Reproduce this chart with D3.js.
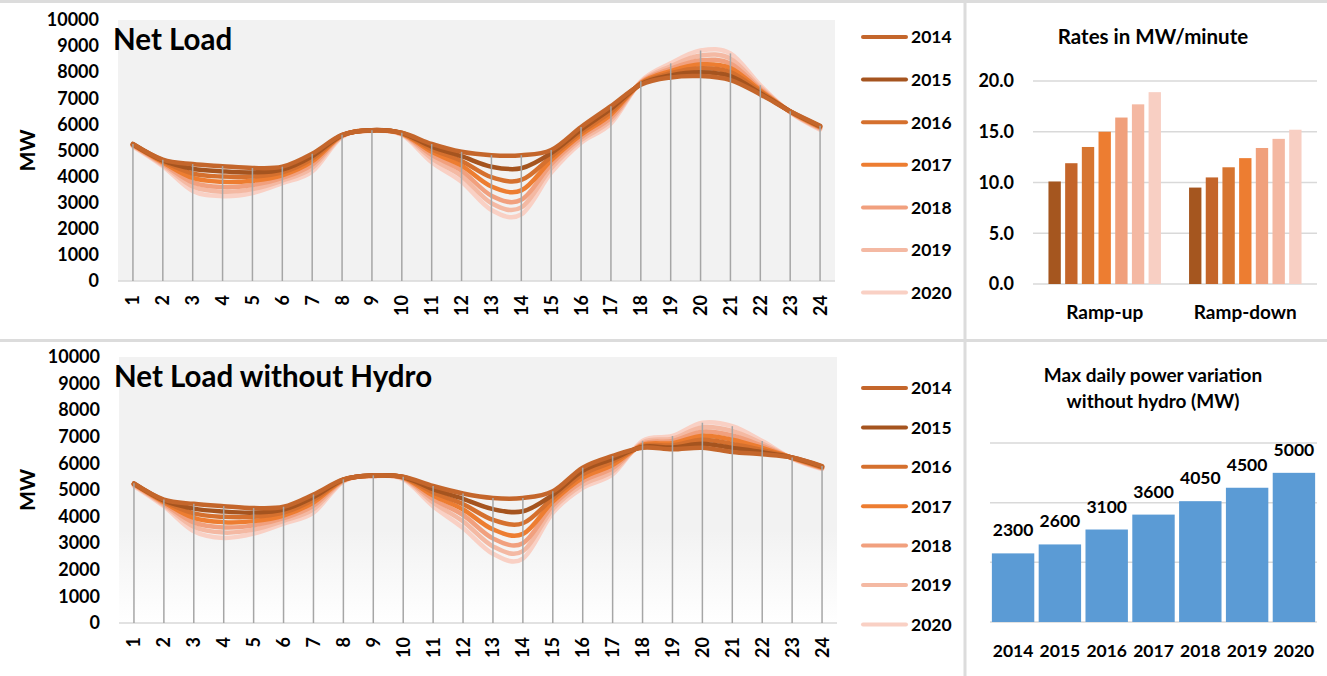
<!DOCTYPE html>
<html>
<head>
<meta charset="utf-8">
<script src="https://cdn.jsdelivr.net/npm/d3@7"></script>
<style>
  body { margin: 0; background: #fff; }
  svg { display: block; font-family: Lato, "Open Sans", sans-serif; font-weight: 700; }
</style>
</head>
<body>
<svg id="chart" width="1327" height="676"></svg>
<script>
// hours and years
var hours = ["1","2","3","4","5","6","7","8","9","10","11","12","13","14","15","16","17","18","19","20","21","22","23","24"];
var years = ["2014","2015","2016","2017","2018","2019","2020"];
var lineColors = ["#c4662b","#a5541f","#d5702e","#ed7d31","#f1a07e","#f4b9a3","#f9d0c4"];
var barColors  = ["#a5561f","#c4652a","#d77530","#ed7d31","#f0a07c","#f4b8a2","#f8cfc3"];

// Net Load (MW) per hour
var netLoad2014 = [5250,4650,4480,4400,4330,4380,4880,5600,5780,5680,5250,4950,4820,4820,5020,5900,6700,7520,7800,7850,7700,7150,6500,5950];
var netLoad2015 = [5240,4620,4300,4200,4160,4270,4780,5590,5780,5670,5150,4780,4380,4320,4900,5800,6600,7540,7880,8000,7850,7200,6500,5930];
var netLoad2016 = [5230,4590,4120,4000,4000,4160,4680,5580,5770,5660,5050,4600,3980,3870,4760,5700,6480,7560,7960,8150,8000,7250,6500,5910];
var netLoad2017 = [5220,4550,3950,3800,3840,4050,4580,5570,5770,5650,4950,4420,3620,3470,4620,5600,6380,7580,8040,8300,8160,7300,6490,5890];
var netLoad2018 = [5200,4500,3780,3600,3680,3950,4460,5560,5760,5640,4830,4230,3270,3110,4480,5500,6260,7600,8130,8460,8330,7350,6480,5860];
var netLoad2019 = [5180,4450,3620,3420,3520,3850,4330,5540,5760,5620,4700,4020,2980,2820,4320,5400,6150,7620,8230,8640,8520,7420,6470,5830];
var netLoad2020 = [5150,4400,3450,3250,3370,3750,4200,5520,5750,5600,4550,3800,2720,2550,4150,5300,6040,7650,8340,8830,8720,7500,6460,5800];

// Net Load without Hydro (MW) per hour
var noHydro2014 = [5250,4640,4480,4390,4320,4370,4830,5400,5550,5500,5150,4870,4700,4700,4950,5840,6280,6590,6530,6590,6430,6340,6220,5900];
var noHydro2015 = [5240,4610,4300,4190,4150,4260,4730,5390,5550,5490,5030,4670,4280,4200,4820,5720,6170,6620,6600,6740,6580,6420,6220,5880];
var noHydro2016 = [5230,4580,4120,3990,3990,4150,4630,5380,5540,5480,4910,4470,3880,3750,4690,5590,6060,6650,6680,6890,6730,6500,6220,5860];
var noHydro2017 = [5220,4540,3950,3790,3830,4040,4530,5370,5540,5470,4790,4270,3520,3350,4560,5460,5940,6690,6760,7040,6890,6580,6210,5840];
var noHydro2018 = [5200,4490,3780,3590,3670,3940,4410,5360,5530,5450,4660,4060,3180,3000,4420,5330,5820,6730,6840,7190,7050,6660,6200,5820];
var noHydro2019 = [5180,4440,3620,3400,3510,3840,4280,5340,5530,5430,4530,3820,2880,2700,4280,5200,5700,6780,6930,7360,7220,6750,6190,5810];
var noHydro2020 = [5150,4390,3450,3200,3360,3740,4150,5320,5520,5400,4390,3570,2600,2420,4140,5080,5590,6850,7030,7530,7400,6840,6180,5790];

var yTicksMW = [0,1000,2000,3000,4000,5000,6000,7000,8000,9000,10000];

// ramp rates (MW/minute)
var rampGroups = ["Ramp-up","Ramp-down"];
var rampUp   = [10.1,11.9,13.5,15.0,16.4,17.7,18.9];
var rampDown = [9.5,10.5,11.5,12.4,13.4,14.3,15.2];
var rateTicks = [0,5,10,15,20];

// max daily power variation without hydro (MW)
var maxVariation = [2300,2600,3100,3600,4050,4500,5000];
var variationTicks = [0,2000,4000,6000];

var svg = d3.select("#chart");

// panel frame
var frame = svg.append("g").attr("stroke","#dcdcdc").attr("stroke-width",3);
frame.append("line").attr("x1",0).attr("x2",1327).attr("y1",1.5).attr("y2",1.5);
frame.append("line").attr("x1",0).attr("x2",1327).attr("y1",340.5).attr("y2",340.5);
frame.append("line").attr("x1",965).attr("x2",965).attr("y1",0).attr("y2",676);

function styleTicks(sel, size){
  sel.selectAll("text").attr("font-size",size).attr("font-weight",700).attr("fill","#000")
    .attr("font-family","Lato, sans-serif");
}

function buildLineChart(opts){
  var g = svg.append("g");
  var x = d3.scaleBand().domain(hours).range([opts.left, opts.right]);
  var y = d3.scaleLinear().domain([0,10000]).range([opts.bottom, opts.top]);
  var cx = function(h){ return x(h) + x.bandwidth()/2; };

  if (opts.gradient) {
    var grad = svg.append("defs").append("linearGradient")
      .attr("id", opts.id + "-bg").attr("x1",0).attr("x2",0).attr("y1",0).attr("y2",1);
    grad.append("stop").attr("offset","0%").attr("stop-color","#f2f2f2");
    grad.append("stop").attr("offset","65%").attr("stop-color","#f2f2f2");
    grad.append("stop").attr("offset","100%").attr("stop-color","#ffffff");
  }
  g.append("rect")
    .attr("x", opts.left).attr("y", opts.top)
    .attr("width", opts.right - opts.left).attr("height", opts.bottom - opts.top)
    .attr("fill", opts.gradient ? "url(#" + opts.id + "-bg)" : "#f2f2f2");

  g.append("line")
    .attr("x1", opts.left).attr("x2", opts.right)
    .attr("y1", opts.bottom).attr("y2", opts.bottom)
    .attr("stroke","#d9d9d9").attr("stroke-width",1.5);

  var yAxis = g.append("g")
    .attr("transform","translate(" + opts.left + ",0)")
    .call(d3.axisLeft(y).tickValues(yTicksMW).tickSize(0).tickPadding(19).tickFormat(d3.format("d")));
  yAxis.select(".domain").remove();
  styleTicks(yAxis, 18);

  var xAxis = g.append("g")
    .attr("transform","translate(0," + opts.bottom + ")")
    .call(d3.axisBottom(x).tickSize(0));
  xAxis.select(".domain").remove();
  styleTicks(xAxis, 18);
  xAxis.selectAll("text")
    .attr("transform","rotate(-90)")
    .attr("x",-14).attr("y",0).attr("dy","0.36em")
    .attr("text-anchor","end");

  g.append("text")
    .attr("transform","translate(" + 35 + "," + ((opts.top + opts.bottom)/2) + ") rotate(-90)")
    .attr("text-anchor","middle")
    .attr("font-size",21)
    .text("MW");

  g.append("text")
    .attr("x", opts.left - 5).attr("y", opts.top + 30)
    .attr("font-size",29.5)
    .text(opts.title);

  var line = d3.line()
    .x(function(d,i){ return cx(hours[i]); })
    .y(function(d){ return y(d); })
    .curve(d3.curveCardinal.tension(0));

  // lightest year first so the darker ones sit on top
  for (var s = opts.series.length - 1; s >= 0; s--) {
    g.append("path")
      .attr("d", line(opts.series[s]))
      .attr("fill","none")
      .attr("stroke", lineColors[s])
      .attr("stroke-width",4.5)
      .attr("stroke-linecap","round");
  }

  // drop lines from the highest series to the axis
  g.selectAll(".drop")
    .data(hours)
    .enter().append("line")
    .attr("x1", function(h){ return cx(h); })
    .attr("x2", function(h){ return cx(h); })
    .attr("y1", function(h,i){ return y(d3.max(opts.series, function(sr){ return sr[i]; })); })
    .attr("y2", opts.bottom)
    .attr("stroke","#a6a6a6").attr("stroke-width",1.5);

  // legend
  var lg = g.selectAll(".lg").data(years).enter().append("g")
    .attr("transform", function(d,i){ return "translate(0," + (opts.legendTop + i*opts.legendStep) + ")"; });
  lg.append("line")
    .attr("x1",863).attr("x2",906)
    .attr("stroke", function(d,i){ return lineColors[i]; })
    .attr("stroke-width",4).attr("stroke-linecap","round");
  lg.append("text")
    .attr("x",911).attr("dy","0.36em")
    .attr("font-size",17.5)
    .text(function(d){ return d; });
}

buildLineChart({
  id: "net", title: "Net Load",
  left: 118, right: 835, top: 20, bottom: 281,
  series: [netLoad2014,netLoad2015,netLoad2016,netLoad2017,netLoad2018,netLoad2019,netLoad2020],
  legendTop: 37, legendStep: 42.6, gradient: false
});

buildLineChart({
  id: "hydro", title: "Net Load without Hydro",
  left: 119, right: 837, top: 357, bottom: 623,
  series: [noHydro2014,noHydro2015,noHydro2016,noHydro2017,noHydro2018,noHydro2019,noHydro2020],
  legendTop: 388, legendStep: 39.4, gradient: true
});

// Rates in MW/minute
(function(){
  var g = svg.append("g");
  var left = 1033, right = 1317, top = 81, bottom = 284;
  var y = d3.scaleLinear().domain([0,20]).range([bottom, top]);
  var x0 = d3.scaleBand().domain(rampGroups).range([left, right]).paddingInner(0.2).paddingOuter(0.11);
  var x1 = d3.scaleBand().domain(years).range([0, x0.bandwidth()]).paddingInner(0.26);

  g.selectAll(".grid").data(rateTicks).enter().append("line")
    .attr("x1", left).attr("x2", right)
    .attr("y1", function(d){ return y(d); }).attr("y2", function(d){ return y(d); })
    .attr("stroke","#d9d9d9").attr("stroke-width",1.5);

  var yAxis = g.append("g").attr("transform","translate(" + (left - 19) + ",0)")
    .call(d3.axisLeft(y).tickValues(rateTicks).tickSize(0).tickPadding(0).tickFormat(d3.format(".1f")));
  yAxis.select(".domain").remove();
  styleTicks(yAxis, 18);

  var groups = [rampUp, rampDown];
  rampGroups.forEach(function(grp, gi){
    g.selectAll(".bar" + gi).data(groups[gi]).enter().append("rect")
      .attr("x", function(d,i){ return x0(grp) + x1(years[i]); })
      .attr("width", x1.bandwidth())
      .attr("y", function(d){ return y(d); })
      .attr("height", function(d){ return bottom - y(d); })
      .attr("fill", function(d,i){ return barColors[i]; });
  });

  g.selectAll(".cat").data(rampGroups).enter().append("text")
    .attr("x", function(d){ return x0(d) + x0.bandwidth()/2; })
    .attr("y", 319)
    .attr("text-anchor","middle").attr("font-size",19)
    .text(function(d){ return d; });

  g.append("text").attr("x",1153).attr("y",44)
    .attr("text-anchor","middle").attr("font-size",20.5)
    .text("Rates in MW/minute");
})();

// Max daily power variation without hydro
(function(){
  var g = svg.append("g");
  var left = 990, right = 1317, top = 443, bottom = 622;
  var y = d3.scaleLinear().domain([0,6000]).range([bottom, top]);
  var x = d3.scaleBand().domain(years).range([left, right]).paddingInner(0.094).paddingOuter(0.04);

  g.selectAll(".grid").data(variationTicks).enter().append("line")
    .attr("x1", left).attr("x2", right)
    .attr("y1", function(d){ return y(d); }).attr("y2", function(d){ return y(d); })
    .attr("stroke","#d9d9d9").attr("stroke-width",1.5);

  g.selectAll(".bar").data(maxVariation).enter().append("rect")
    .attr("x", function(d,i){ return x(years[i]); })
    .attr("width", x.bandwidth())
    .attr("y", function(d){ return y(d); })
    .attr("height", function(d){ return bottom - y(d); })
    .attr("fill","#5b9bd5");

  g.selectAll(".val").data(maxVariation).enter().append("text")
    .attr("x", function(d,i){ return x(years[i]) + x.bandwidth()/2; })
    .attr("y", function(d){ return y(d) - 17; })
    .attr("text-anchor","middle").attr("font-size",17.5)
    .text(function(d){ return d; });

  g.selectAll(".cat").data(years).enter().append("text")
    .attr("x", function(d){ return x(d) + x.bandwidth()/2; })
    .attr("y", 657)
    .attr("text-anchor","middle").attr("font-size",17.5)
    .text(function(d){ return d; });

  g.append("text").attr("x",1153).attr("y",382)
    .attr("text-anchor","middle").attr("font-size",19)
    .text("Max daily power variation");
  g.append("text").attr("x",1153).attr("y",408)
    .attr("text-anchor","middle").attr("font-size",19)
    .text("without hydro (MW)");
})();
</script>
</body>
</html>
